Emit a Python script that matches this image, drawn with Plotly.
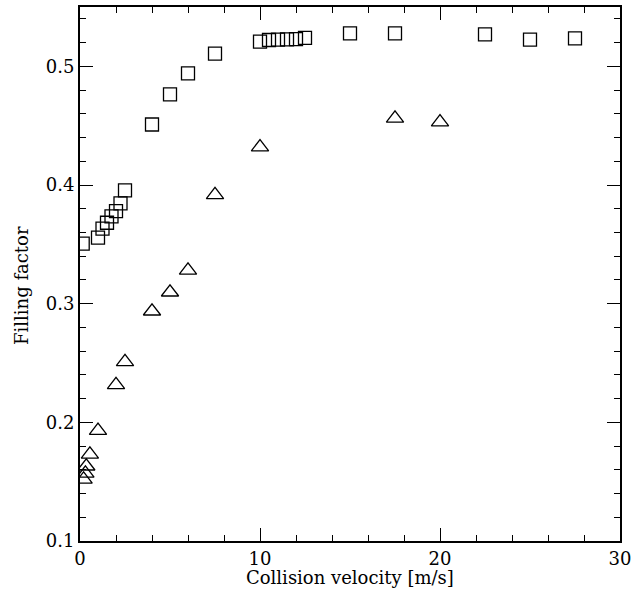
import plotly.graph_objects as go
from plotly.subplots import make_subplots

# Squares series
sq_x = [0.15, 1.0, 1.25, 1.5, 1.75, 2.0, 2.25, 2.5, 4.0, 5.0, 6.0, 7.5, 10.0, 10.5, 11.0, 11.5, 12.0, 12.5, 15.0, 17.5, 22.5, 25.0, 27.5]
sq_y = [0.3506, 0.3557, 0.3632, 0.3682, 0.3735, 0.3780, 0.3845, 0.3955, 0.451, 0.4763, 0.494, 0.5107, 0.5208, 0.5222, 0.5225, 0.5228, 0.5230, 0.5240, 0.5278, 0.5278, 0.5270, 0.5225, 0.5235]

# Triangles series
tr_x = [0.2, 0.3, 0.35, 0.55, 1.0, 2.0, 2.5, 4.0, 5.0, 6.0, 7.5, 10.0, 17.5, 20.0]
tr_y = [0.152, 0.157, 0.163, 0.173, 0.193, 0.2316, 0.251, 0.2936, 0.3096, 0.328, 0.3917, 0.432, 0.4562, 0.453]

x_range = [0, 30]
y_range = [0.1, 0.55]
x_title = "Collision velocity [m/s]"
y_title = "Filling factor"

fig = make_subplots(rows=1, cols=1)
fig.add_trace(go.Scatter(x=sq_x, y=sq_y, mode="markers",
                         marker=dict(symbol="square-open", size=13, color="black", line=dict(width=1.3))))
fig.add_trace(go.Scatter(x=tr_x, y=tr_y, mode="markers",
                         marker=dict(symbol="triangle-up-open", size=15, color="black", line=dict(width=1.3))))
# empty trace to activate the minor-tick axes
fig.add_trace(go.Scatter(x=[], y=[], xaxis="x2", yaxis="y2", showlegend=False))

font = dict(family="DejaVu Serif", size=18, color="black")
axis_common = dict(showline=True, linecolor="black", linewidth=2,
                   mirror="allticks", ticks="inside", tickcolor="black", ticklen=13,
                   tickfont=font)
minor_common = dict(showline=False, mirror="allticks",
                    ticks="inside", tickcolor="black", ticklen=6,
                    showticklabels=False)
fig.update_layout(
    width=644, height=602,
    margin=dict(l=80, r=24, t=5, b=61),
    plot_bgcolor="white",
    showlegend=False,
    xaxis=dict(range=x_range, dtick=10, **axis_common),
    yaxis=dict(range=y_range, dtick=0.1, **axis_common),
    xaxis2=dict(range=x_range, dtick=2, overlaying="x", anchor="y", **minor_common),
    yaxis2=dict(range=y_range, dtick=0.02, overlaying="y", anchor="x", **minor_common),
    annotations=[
        dict(text=x_title, xref="paper", yref="paper", x=0.5, y=-0.069,
             xanchor="center", yanchor="middle", showarrow=False, font=font),
        dict(text=y_title, xref="paper", yref="paper", x=-0.1074, y=0.4776, textangle=-90,
             xanchor="center", yanchor="middle", showarrow=False, font=font),
    ],
)
fig.write_html("out.html", config={"displayModeBar": False},
               post_script="document.body.style.margin='0';")
